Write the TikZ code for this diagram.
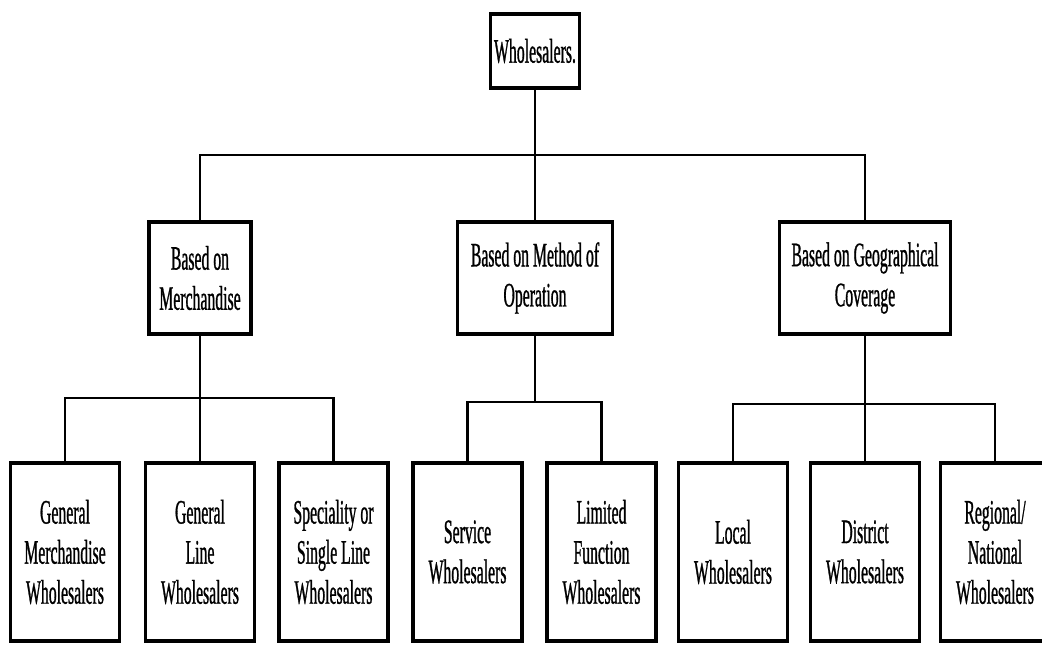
\documentclass[tikz,border=0pt]{standalone}
\usepackage{fontspec}
\setmainfont[FakeStretch=0.46,FakeBold=0.8]{Liberation Serif}
\begin{document}
\begin{tikzpicture}[x=1cm,
        box/.style={draw,line width=1.8pt,inner sep=0pt,align=center,
            font=\fontsize{19.5}{22.8}\selectfont},
        topbox/.style={box,minimum width=1.78cm,minimum height=1.48cm},
        midbox/.style={box,minimum height=2.24cm},
        leaf/.style={box,minimum width=2.18cm,minimum height=3.56cm},
        link/.style={line width=1.4pt}]
        \clip (0,0) rectangle (20.84,12.92);
        \useasboundingbox (0,0) rectangle (20.84,12.92);

        \node[topbox] (whole) at (10.7,11.9) {Wholesalers.};

        \node[midbox,minimum width=2.04cm] (merch) at (4.0,7.36) {Based on\\Merchandise};
        \node[midbox,minimum width=3.1cm] (meth) at (10.7,7.36) {Based on Method of\\Operation};
        \node[midbox,minimum width=3.42cm] (geo) at (17.3,7.36) {Based on Geographical\\Coverage};

        \node[leaf] (genm) at (1.3,1.88) {General\\Merchandise\\Wholesalers};
        \node[leaf] (genl) at (4.0,1.88) {General\\Line\\Wholesalers};
        \node[leaf] (spec) at (6.67,1.88) {Speciality or\\Single Line\\Wholesalers};
        \node[leaf] (serv) at (9.35,1.88) {Service\\Wholesalers};
        \node[leaf] (ltd) at (12.03,1.88) {Limited\\Function\\Wholesalers};
        \node[leaf] (local) at (14.66,1.88) {Local\\Wholesalers};
        \node[leaf] (dist) at (17.3,1.88) {District\\Wholesalers};
        \node[leaf] (regio) at (19.9,1.88) {Regional/\\National\\Wholesalers};

        % bars
        \coordinate (bar) at (10.7,9.82);
        \coordinate (barm) at (4.0,4.96);
        \coordinate (baro) at (10.7,4.88);
        \coordinate (barg) at (17.3,4.84);

        \draw[link] (merch.north) |- (bar) -| (geo.north);
        \draw[link] (whole.south) -- (meth.north);

        \draw[link] (merch.south) -- (genl.north);
        \draw[link] (genm.north) |- (barm) -| (spec.north);

        \draw[link] (meth.south) -- (baro);
        \draw[link] (serv.north) |- (baro) -| (ltd.north);

        \draw[link] (geo.south) -- (dist.north);
        \draw[link] (local.north) |- (barg) -| (regio.north);
    \end{tikzpicture}
\end{document}
